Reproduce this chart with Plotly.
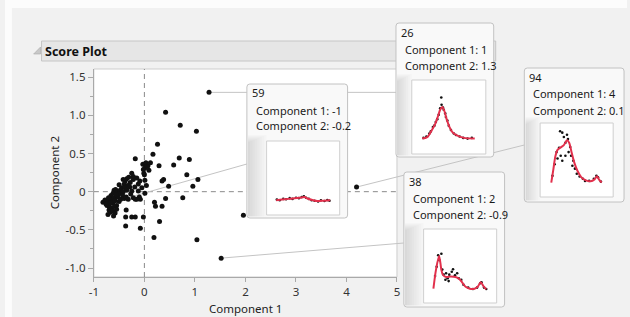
import plotly.graph_objects as go

W, H = 630, 317

# ---------------- data ----------------
comp1 = [0.42, 0.71, 1.03, 0.26, 0.17, -0.18, 0.69, 0.89, 0.58, 0.29, 0.84, 1.06, 0.96, 0.48, 0.38, 0.35,
         0.76, 0.42, 0.35, 0.20, 0.22, 0.30, 0.19, 1.04, 1.96,
         -0.03, 0.03, 0.07, 0.12, 0.01, 0.09, -0.01, 0.05, -0.02, 0.00, 0.01, 0.04,
         -0.25, -0.22, -0.19,
         -0.35, -0.38, -0.31, -0.28, -0.22, -0.15, -0.09, -0.12, -0.40, -0.33, -0.42,
         -0.50, -0.45,
         -0.60, -0.57, -0.54, -0.48, -0.45, -0.51, -0.42, -0.38, -0.35, -0.29, -0.25, -0.62, -0.66,
         -0.82, -0.78, -0.74, -0.72, -0.69, -0.66, -0.63, -0.60, -0.58, -0.55, -0.53, -0.50, -0.47, -0.43,
         -0.40, -0.36, -0.32, -0.71, -0.68, -0.64, -0.59, -0.56,
         -0.70, -0.67, -0.63, -0.58, -0.55, -0.72, -0.61,
         -0.36, -0.37, -0.25, -0.18, -0.37, -0.08, -0.02,
         0.01, -0.05, -0.10, -0.08, -0.18, -0.15, -0.22, -0.27, -0.12]
comp2 = [1.04, 0.87, 0.79, 0.62, 0.49, 0.43, 0.44, 0.42, 0.35, 0.34, 0.22, 0.16, 0.07, 0.07, 0.16, 0.14,
         -0.08, -0.09, -0.19, -0.14, -0.19, -0.39, -0.60, -0.63, -0.31,
         0.36, 0.38, 0.34, 0.38, 0.31, 0.28, 0.24, 0.33, 0.29, 0.22, 0.15, 0.08,
         0.24, 0.20, 0.06,
         0.17, 0.14, 0.19, 0.12, 0.16, 0.18, 0.14, 0.10, 0.10, 0.08, 0.16,
         0.09, 0.05,
         0.02, 0.03, 0.00, 0.02, -0.01, -0.03, 0.00, 0.05, 0.02, 0.06, 0.01, -0.02, -0.05,
         -0.14, -0.11, -0.18, -0.12, -0.20, -0.10, -0.15, -0.08, -0.12, -0.18, -0.07, -0.13, -0.10, -0.05,
         -0.09, -0.07, -0.10, -0.08, -0.15, -0.22, -0.19, -0.04,
         -0.24, -0.27, -0.25, -0.28, -0.23, -0.30, -0.32,
         -0.24, -0.33, -0.33, -0.33, -0.45, -0.48, -0.33,
         -0.02, 0.05, -0.07, -0.10, -0.10, -0.10, -0.08, -0.03, 0.01]

# labelled rows (hover labels pinned)
label_rows = ["59", "26", "94", "38"]
label_c1 = [-0.76, 1.28, 4.20, 1.52]
label_c2 = [-0.16, 1.30, 0.06, -0.87]

x_tick_vals = [-1, 0, 1, 2, 3, 4, 5]
x_tick_text = ["-1", "0", "1", "2", "3", "4", "5"]
y_tick_vals = [-1.0, -0.5, 0, 0.5, 1.0, 1.5]
y_tick_text = ["-1.0", "-0.5", "0", "0.5", "1.0", "1.5"]

# spectra shown in the pinned labels (curve = fitted, dots = measured)
spec_curve_x = {
    "59": [12, 20, 29, 38, 45, 52, 56, 63, 70, 79, 88],
    "26": [13, 20, 26, 31, 35, 38, 41, 44, 47, 51, 55, 62, 71, 86],
    "94": [14.3, 17.3, 20, 23.1, 27.6, 32, 36.4, 39.6, 43.1, 46.7, 51.1, 56.4, 63.1, 69.7, 75.1, 78.7, 81.3, 85.3],
    "38": [12.4, 16, 20.4, 23.6, 25.7, 30.3, 37, 43.6, 48.9, 53.3, 57.7, 63.6, 70.3, 74.7, 79, 82.7, 86.7],
}
spec_curve_y = {
    "59": [0.19, 0.20, 0.21, 0.22, 0.225, 0.235, 0.215, 0.195, 0.18, 0.185, 0.19],
    "26": [0.20, 0.22, 0.31, 0.40, 0.51, 0.60, 0.64, 0.58, 0.47, 0.36, 0.29, 0.24, 0.21, 0.20],
    "94": [0.187, 0.373, 0.55, 0.64, 0.676, 0.707, 0.773, 0.737, 0.596, 0.463, 0.351, 0.263, 0.217, 0.204,
           0.231, 0.276, 0.231, 0.187],
    "38": [0.185, 0.446, 0.64, 0.446, 0.378, 0.347, 0.355, 0.347, 0.32, 0.266, 0.212, 0.185, 0.185, 0.212,
           0.274, 0.22, 0.176],
}
spec_dot_x = {
    "59": [13, 17, 22, 26, 31, 35, 40, 44, 48, 51, 54, 58, 62, 66, 71, 75, 80, 84, 87],
    "26": [15, 19, 23, 25, 28, 30, 32, 34, 36, 38, 39.6, 40, 42, 43, 45, 46, 48, 50, 53, 57, 60, 65, 70, 76, 82],
    "94": [26.7, 29.8, 32, 36.4, 37.8, 34.2, 25.3, 21.8, 23.1, 27.6, 29.8, 34.2, 38.7, 40.9, 42.2, 45.3, 44,
           47.6, 50.2, 54.2, 58.7, 61.8, 67.6, 74.2, 77.8, 80, 84, 16, 19],
    "38": [19.1, 23.6, 21, 17, 14.7, 24.9, 26.7, 30.2, 32.4, 34.7, 38.2, 40, 42.7, 45.8, 48, 33.8, 29.3, 51.6,
           54.7, 61.3, 68, 73.8, 80, 78.2, 83.6, 86.7],
}
spec_dot_y = {
    "59": [0.20, 0.19, 0.21, 0.205, 0.22, 0.21, 0.225, 0.22, 0.235, 0.245, 0.225, 0.21, 0.19, 0.185, 0.175,
           0.19, 0.18, 0.195, 0.185],
    "26": [0.21, 0.23, 0.27, 0.30, 0.36, 0.38, 0.43, 0.47, 0.53, 0.62, 0.77, 0.67, 0.63, 0.60, 0.55, 0.50,
           0.45, 0.38, 0.32, 0.27, 0.25, 0.23, 0.21, 0.20, 0.21],
    "94": [0.90, 0.88, 0.82, 0.85, 0.79, 0.74, 0.67, 0.61, 0.52, 0.56, 0.49, 0.56, 0.61, 0.68, 0.56, 0.49,
           0.42, 0.38, 0.31, 0.27, 0.24, 0.21, 0.21, 0.24, 0.28, 0.26, 0.20, 0.28, 0.44],
    "38": [0.65, 0.67, 0.58, 0.49, 0.36, 0.45, 0.38, 0.40, 0.33, 0.38, 0.42, 0.455, 0.37, 0.40, 0.33, 0.29,
           0.31, 0.31, 0.24, 0.20, 0.18, 0.20, 0.275, 0.26, 0.20, 0.18],
}

# ---------------- geometry (pixels) ----------------
PX0, PX1, PY0, PY1 = 90, 397, 69, 277          # main plot area
XR = [-1.0, 5.0]
YR = [-1.117, 1.606]

# tooltip boxes: left, top, right, bottom ; anchor y of connector on left edge
tips = {
    "59": dict(box=(245, 84, 347, 218), inset=(265, 141, 339, 215), anchor=164),
    "26": dict(box=(396, 23, 495, 157), inset=(412, 80, 487, 154), anchor=None),
    "94": dict(box=(526, 68, 627, 202), inset=(542, 123, 616, 197), anchor=145),
    "38": dict(box=(404, 172, 506, 307), inset=(424, 229, 498, 303), anchor=243),
}

def fx(px):
    return px / W

def fy(py):
    return 1 - py / H

def data_px(x, y):
    px = PX0 + (x - XR[0]) / (XR[1] - XR[0]) * (PX1 - PX0)
    py = PY1 - (y - YR[0]) / (YR[1] - YR[0]) * (PY1 - PY0)
    return px, py

FONT = "Noto Sans, Segoe UI, sans-serif"
RED = "#e2304c"

fig = go.Figure()

# main scatter
fig.add_trace(go.Scatter(x=comp1, y=comp2, mode="markers",
                         marker=dict(color="#111111", size=5), hoverinfo="skip", showlegend=False,
                         xaxis="x", yaxis="y"))
fig.add_trace(go.Scatter(x=label_c1, y=label_c2, mode="markers",
                         marker=dict(color="#111111", size=5), hoverinfo="skip", showlegend=False,
                         xaxis="x", yaxis="y"))

shapes = []
annotations = []

# white strips at very top/left of page
shapes.append(dict(type="rect", xref="paper", yref="paper", x0=0, x1=1, y0=fy(8), y1=1,
                   fillcolor="#fcfcfc", line=dict(width=0), layer="below"))
shapes.append(dict(type="rect", xref="paper", yref="paper", x0=0, x1=fx(7), y0=0, y1=1,
                   fillcolor="#fcfcfc", line=dict(width=0), layer="below"))

# header bar
shapes.append(dict(type="rect", xref="paper", yref="paper", x0=fx(37), x1=fx(497), y0=fy(61), y1=fy(41),
                   fillcolor="#e6e6e6", line=dict(color="#c6c6c6", width=1), layer="below"))
shapes.append(dict(type="path", xref="paper", yref="paper",
                   path=f"M {fx(29)},{fy(54)} L {fx(36)},{fy(54)} L {fx(36)},{fy(47)} Z",
                   fillcolor="#c8c8c8", line=dict(color="#a8a8a8", width=0.6), layer="below"))
annotations.append(dict(text="<b>Score Plot</b>", x=fx(38), y=fy(51.5), xref="paper", yref="paper",
                        xanchor="left", yanchor="middle", showarrow=False,
                        font=dict(family=FONT, size=12.5, color="#111111")))

# plot frame
shapes.append(dict(type="rect", xref="paper", yref="paper", x0=fx(PX0), x1=fx(PX1), y0=fy(PY1), y1=fy(PY0),
                   fillcolor="rgba(0,0,0,0)", line=dict(color="#cdcdcd", width=1), layer="below"))

# dashed reference lines at 0
shapes.append(dict(type="line", xref="x", yref="paper", x0=0, x1=0, y0=fy(PY1), y1=fy(PY0),
                   line=dict(color="#8a8a8a", width=1, dash="5px,4px"), layer="below"))
shapes.append(dict(type="line", xref="paper", yref="y", x0=fx(PX0), x1=fx(PX1), y0=0, y1=0,
                   line=dict(color="#8a8a8a", width=1, dash="5px,4px"), layer="below"))

# connectors from points to their labels
for rid, c1, c2 in zip(label_rows, label_c1, label_c2):
    t = tips[rid]
    px, py = data_px(c1, c2)
    ay = t["anchor"] if t["anchor"] is not None else py
    shapes.append(dict(type="line", xref="paper", yref="paper", x0=fx(px), y0=fy(py),
                       x1=fx(t["box"][0]), y1=fy(ay),
                       line=dict(color="#c4c4c4", width=1), layer="below"))


def rounded(x0, y0, x1, y1, r=3):
    return (f"M {fx(x0 + r)},{fy(y0)} L {fx(x1 - r)},{fy(y0)} Q {fx(x1)},{fy(y0)} {fx(x1)},{fy(y0 + r)} "
            f"L {fx(x1)},{fy(y1 - r)} Q {fx(x1)},{fy(y1)} {fx(x1 - r)},{fy(y1)} "
            f"L {fx(x0 + r)},{fy(y1)} Q {fx(x0)},{fy(y1)} {fx(x0)},{fy(y1 - r)} "
            f"L {fx(x0)},{fy(y0 + r)} Q {fx(x0)},{fy(y0)} {fx(x0 + r)},{fy(y0)} Z")


axis_n = 2
layout_axes = {}
for rid, c1, c2 in zip(label_rows, label_c1, label_c2):
    t = tips[rid]
    bx0, by0, bx1, by1 = t["box"]
    ix0, iy0, ix1, iy1 = t["inset"]
    shapes.append(dict(type="path", xref="paper", yref="paper", path=rounded(bx0, by0, bx1, by1),
                       fillcolor="#f9f9f9", line=dict(color="#c2c2c2", width=1), layer="below"))
    # softly shaded strip on the left
    full = ix0 - bx0 - 1
    for k in range(8):
        wdt = full * (1 - k / 8)
        shapes.append(dict(type="rect", xref="paper", yref="paper", x0=fx(bx0 + 1), x1=fx(bx0 + 1 + wdt),
                           y0=fy(by1 - 1.5), y1=fy(iy0 - 6 + k),
                           fillcolor="rgba(0,0,0,0.016)", line=dict(width=0), layer="below"))
    shapes.append(dict(type="rect", xref="paper", yref="paper", x0=fx(ix0), x1=fx(ix1), y0=fy(iy1), y1=fy(iy0),
                       fillcolor="#ffffff", line=dict(color="#cfcfcf", width=1), layer="below"))
    # text
    annotations.append(dict(text=rid, x=fx(bx0 + 3), y=fy(by0 + 9), xref="paper", yref="paper",
                            xanchor="left", yanchor="middle", showarrow=False,
                            font=dict(family=FONT, size=11, color="#1a1a1a")))
    annotations.append(dict(text=f"Component 1: {round(c1):d}", x=fx(bx0 + 7), y=fy(by0 + 26),
                            xref="paper", yref="paper", xanchor="left", yanchor="middle", showarrow=False,
                            font=dict(family=FONT, size=11, color="#1a1a1a")))
    annotations.append(dict(text=f"Component 2: {c2:.1f}", x=fx(bx0 + 7), y=fy(by0 + 42),
                            xref="paper", yref="paper", xanchor="left", yanchor="middle", showarrow=False,
                            font=dict(family=FONT, size=11, color="#1a1a1a")))
    # inset spectrum
    xa, ya = f"x{axis_n}", f"y{axis_n}"
    fig.add_trace(go.Scatter(x=spec_dot_x[rid], y=spec_dot_y[rid], mode="markers",
                             marker=dict(color="#111111", size=2.6), hoverinfo="skip", showlegend=False,
                             xaxis=xa, yaxis=ya))
    fig.add_trace(go.Scatter(x=spec_curve_x[rid], y=spec_curve_y[rid], mode="lines",
                             line=dict(color=RED, width=2, shape="spline", smoothing=0.8),
                             hoverinfo="skip", showlegend=False, xaxis=xa, yaxis=ya))
    common = dict(showgrid=False, zeroline=False, showticklabels=False, ticks="", showline=False,
                  fixedrange=True)
    layout_axes[f"xaxis{axis_n}"] = dict(domain=[fx(ix0 + 1), fx(ix1 - 1)], range=[0, 100],
                                         anchor=ya, **common)
    layout_axes[f"yaxis{axis_n}"] = dict(domain=[fy(iy1 - 1), fy(iy0 + 1)], range=[0, 1],
                                         anchor=xa, **common)
    axis_n += 1

# axis titles
annotations.append(dict(text="Component 1", x=fx((PX0 + PX1) / 2), y=fy(308), xref="paper", yref="paper",
                        xanchor="center", yanchor="middle", showarrow=False,
                        font=dict(family=FONT, size=11.5, color="#222222")))
annotations.append(dict(text="Component 2", x=fx(50), y=fy((PY0 + PY1) / 2), xref="paper", yref="paper",
                        xanchor="center", yanchor="middle", showarrow=False, textangle=-90,
                        font=dict(family=FONT, size=11.5, color="#222222")))

fig.update_layout(
    width=W, height=H,
    margin=dict(l=0, r=0, t=0, b=0),
    paper_bgcolor="#f1f1f1",
    plot_bgcolor="#ffffff",
    showlegend=False,
    hovermode=False,
    xaxis=dict(domain=[fx(PX0), fx(PX1)], range=XR, tickvals=x_tick_vals, ticktext=x_tick_text,
               showgrid=False, zeroline=False, showline=True, linecolor="#a9a9a9", linewidth=1,
               ticks="outside", ticklen=4, tickcolor="#a9a9a9",
               tickfont=dict(family=FONT, size=11.5, color="#333333"), anchor="y", fixedrange=True),
    yaxis=dict(domain=[fy(PY1), fy(PY0)], range=YR, tickvals=y_tick_vals, ticktext=y_tick_text,
               showgrid=False, zeroline=False, showline=True, linecolor="#a9a9a9", linewidth=1,
               ticks="outside", ticklen=5, tickcolor="#a9a9a9",
               minor=dict(dtick=0.25, tick0=0, ticks="outside", ticklen=3, tickcolor="#a9a9a9"),
               tickfont=dict(family=FONT, size=11.5, color="#333333"), anchor="x", fixedrange=True),
    shapes=shapes,
    annotations=annotations,
    **layout_axes,
)

fig.write_html("out.html", config=dict(displayModeBar=False),
               post_script="document.body.style.margin='0';document.body.style.overflow='hidden';")
